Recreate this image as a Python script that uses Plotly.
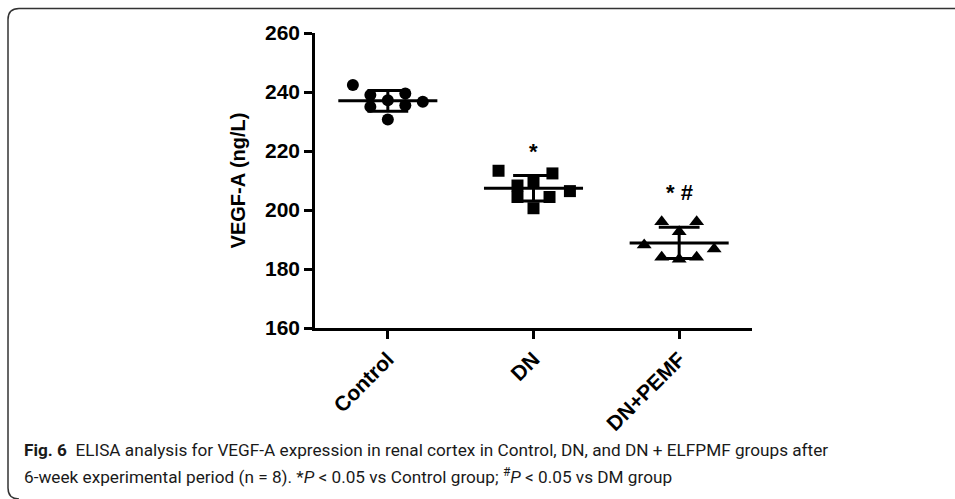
import numpy as np
import plotly.graph_objects as go

# ---- data ----
categories = ["Control", "DN", "DN+PEMF"]
control_vals = [242.4, 239.0, 235.0, 237.2, 239.5, 235.5, 230.7, 236.7]
dn_vals = [213.3, 209.4, 208.3, 204.4, 204.4, 212.4, 200.6, 206.4]
pemf_vals = [196.0, 196.0, 192.6, 188.1, 186.8, 184.0, 183.3, 184.0]
y_ticks = [160, 180, 200, 220, 240, 260]
sig_labels = ["", "*", "* #"]
sig_y = [None, 219.7, 205.8]
y_title = "VEGF-A (ng/L)"
caption_1 = "<b>Fig. 6</b>  ELISA analysis for VEGF-A expression in renal cortex in Control, DN, and DN + ELFPMF groups after"
caption_2 = "6-week experimental period (n = 8). *<i>P</i> &lt; 0.05 vs Control group; <sup>#</sup><i>P</i> &lt; 0.05 vs DM group"

# horizontal spread of points within each group (layout)
control_off = [-0.24, -0.12, -0.12, 0.0, 0.12, 0.12, 0.0, 0.24]
dn_off = [-0.24, 0.0, -0.11, -0.11, 0.11, 0.13, 0.0, 0.25]
pemf_off = [-0.12, 0.12, 0.0, -0.24, 0.24, -0.12, 0.0, 0.12]

groups = [control_vals, dn_vals, pemf_vals]
offsets = [control_off, dn_off, pemf_off]
symbols = ["circle", "square", "triangle-up"]
msizes = [12, 12, 13]

# pixel geometry of the plot area
L, R, T, B = 315, 752, 33, 328
W, H = 955, 499
PW, PH = R - L, B - T


def px(x):
    return (x - L) / PW


def py(y):
    return (B - y) / PH


fig = go.Figure()
FONT = "Arial, Liberation Sans, sans-serif"

for i, (vals, offs, sym) in enumerate(zip(groups, offsets, symbols)):
    xs = [i + o for o in offs]
    fig.add_trace(go.Scatter(x=xs, y=vals, mode="markers",
                             marker=dict(symbol=sym, size=msizes[i], color="black",
                                         line=dict(width=0)),
                             showlegend=False, hoverinfo="y"))
    m = float(np.mean(vals))
    sd = float(np.std(vals, ddof=1))
    fig.add_trace(go.Scatter(x=[i - 0.34, i + 0.34], y=[m, m], mode="lines",
                             line=dict(color="black", width=3), showlegend=False,
                             hoverinfo="skip"))
    fig.add_trace(go.Scatter(x=[i, i], y=[m - sd, m + sd], mode="lines",
                             line=dict(color="black", width=3), showlegend=False,
                             hoverinfo="skip"))
    for yy in (m - sd, m + sd):
        fig.add_trace(go.Scatter(x=[i - 0.14, i + 0.14], y=[yy, yy], mode="lines",
                                 line=dict(color="black", width=3), showlegend=False,
                                 hoverinfo="skip"))
    if sig_labels[i]:
        fig.add_annotation(x=i, y=sig_y[i], text="<b>" + sig_labels[i] + "</b>",
                           showarrow=False,
                           font=dict(family=FONT, size=22, color="black"),
                           xanchor="center", yanchor="middle")

fig.update_xaxes(range=[-0.5, 2.5], tickmode="array", tickvals=[0, 1, 2],
                 ticktext=categories, tickangle=-45,
                 showline=True, linecolor="black", linewidth=2.5,
                 ticks="outside", ticklen=8, tickwidth=2.5, tickcolor="black",
                 showgrid=False, zeroline=False,
                 tickfont=dict(family=FONT, size=21, color="black", weight="bold"))
fig.update_yaxes(range=[160, 260], tickmode="array", tickvals=y_ticks,
                 showline=True, linecolor="black", linewidth=2.5,
                 ticks="outside", ticklen=8, tickwidth=2.5, tickcolor="black",
                 showgrid=False, zeroline=False,
                 tickfont=dict(family=FONT, size=21, color="black", weight="bold"),
                 title=dict(text=y_title, standoff=15,
                            font=dict(family=FONT, size=20, color="black", weight="bold")))

# caption
cap_font = dict(family="Roboto, sans-serif", size=17.2, color="#1a1a1a")
fig.add_annotation(xref="paper", yref="paper", x=px(22), y=py(450), text=caption_1,
                   showarrow=False, xanchor="left", yanchor="middle", font=cap_font)
fig.add_annotation(xref="paper", yref="paper", x=px(22), y=py(476), text=caption_2,
                   showarrow=False, xanchor="left", yanchor="middle", font=cap_font)

# rounded frame (left, top, bottom-left corner)
path = (f"M {px(956)},{py(8.5)} L {px(19)},{py(8.5)} "
        f"Q {px(8)},{py(8.5)} {px(8)},{py(19.5)} "
        f"L {px(8)},{py(488)} Q {px(8)},{py(499)} {px(19)},{py(499)}")
fig.add_shape(type="path", path=path, xref="paper", yref="paper",
              line=dict(color="#333", width=1.5), layer="above")

fig.update_layout(width=W, height=H, margin=dict(l=L, r=W - R, t=T, b=H - B, pad=0),
                  plot_bgcolor="white", paper_bgcolor="white", showlegend=False)

fig.write_html("out.html", config={"displayModeBar": False},
               post_script="document.body.style.margin='0';document.body.style.overflow='hidden';")
